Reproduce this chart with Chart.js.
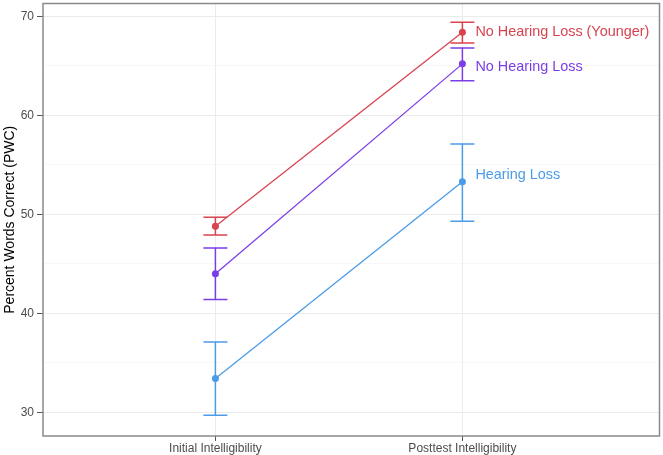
<!DOCTYPE html>
<html>
<head>
<meta charset="utf-8">
<script src="https://cdn.jsdelivr.net/npm/chart.js@4/dist/chart.umd.min.js"></script>
<style>
html,body{margin:0;padding:0;background:#fff;}
#wrap{width:663px;height:455px;position:relative;}
</style>
</head>
<body>
<div id="wrap"><canvas id="c" width="663" height="455"></canvas></div>
<script>
const categories = ['Initial Intelligibility', 'Posttest Intelligibility'];
const groups = ['No Hearing Loss (Younger)', 'No Hearing Loss', 'Hearing Loss'];
const meanYounger = [48.8, 68.4];
const lowYounger  = [47.9, 67.3];
const highYounger = [49.7, 69.4];
const meanNHL = [44.0, 65.2];
const lowNHL  = [41.4, 63.5];
const highNHL = [46.6, 66.8];
const meanHL = [33.4, 53.3];
const lowHL  = [29.7, 49.3];
const highHL = [37.1, 57.1];
const yTickLabels = [30, 40, 50, 60, 70];

const colors = ['#d9434e', '#7b3ee6', '#4b9be9'];
const labelNudge = [0, 3, -7];
const means = [meanYounger, meanNHL, meanHL];
const lows = [lowYounger, lowNHL, lowHL];
const highs = [highYounger, highNHL, highHL];

const datasets = groups.map((g, i) => ({
  label: g,
  data: means[i].map((v, j) => ({x: j + 1, y: v})),
  borderColor: colors[i],
  backgroundColor: colors[i],
  borderWidth: 1.3,
  pointRadius: 3.5,
  pointHoverRadius: 3.5,
  pointBorderWidth: 0,
  tension: 0,
  lows: lows[i],
  highs: highs[i]
}));

const panelPlugin = {
  id: 'panel',
  afterDraw(chart) {
    const {ctx, chartArea: a} = chart;
    ctx.save();
    ctx.strokeStyle = '#8a8a8a';
    ctx.lineWidth = 1.5;
    ctx.strokeRect(a.left, a.top, a.right - a.left, a.bottom - a.top);
    ctx.restore();
  }
};

const errorBarPlugin = {
  id: 'errorbars',
  beforeDatasetsDraw(chart) {
    const {ctx} = chart;
    const xs = chart.scales.x, ys = chart.scales.y;
    ctx.save();
    chart.data.datasets.forEach(ds => {
      ctx.strokeStyle = ds.borderColor;
      ctx.lineWidth = 1.5;
      ds.data.forEach((p, j) => {
        const px = xs.getPixelForValue(p.x);
        const lo = ys.getPixelForValue(ds.lows[j]);
        const hi = ys.getPixelForValue(ds.highs[j]);
        ctx.beginPath();
        ctx.moveTo(px, lo); ctx.lineTo(px, hi);
        ctx.moveTo(px - 12, lo); ctx.lineTo(px + 12, lo);
        ctx.moveTo(px - 12, hi); ctx.lineTo(px + 12, hi);
        ctx.stroke();
      });
    });
    ctx.restore();
  },
  afterDatasetsDraw(chart) {
    const {ctx} = chart;
    const xs = chart.scales.x, ys = chart.scales.y;
    ctx.save();
    ctx.font = '14.4px "Liberation Sans", Arial, sans-serif';
    ctx.textAlign = 'left';
    ctx.textBaseline = 'middle';
    chart.data.datasets.forEach((ds, i) => {
      const last = ds.data[ds.data.length - 1];
      ctx.fillStyle = ds.borderColor;
      ctx.fillText(ds.label, xs.getPixelForValue(last.x) + 13, ys.getPixelForValue(last.y) + labelNudge[i]);
    });
    ctx.restore();
  }
};

new Chart(document.getElementById('c'), {
  type: 'line',
  data: {datasets},
  options: {
    responsive: false,
    animation: false,
    events: [],
    layout: {padding: {top: 2, right: 1, left: 0, bottom: 0}},
    plugins: {legend: {display: false}, tooltip: {enabled: false}},
    scales: {
      x: {
        type: 'linear',
        min: 0.302,
        max: 2.798,
        afterBuildTicks(s) { s.ticks = categories.map((c, j) => ({value: j + 1})); },
        afterFit(s) { s.height = 19; s.paddingLeft = 0; s.paddingRight = 0; },
        ticks: {
          callback: (v) => categories[v - 1] || '',
          color: '#4d4d4d',
          font: {family: '"Liberation Sans", Arial, sans-serif', size: 12},
          padding: 0,
          maxRotation: 0,
          autoSkip: false
        },
        grid: {color: '#ebebeb', lineWidth: 1, tickLength: 5, tickColor: '#555'},
        border: {display: false}
      },
      y: {
        min: 27.6,
        max: 71.3,
        afterFit(s) { s.width = 43; s.paddingTop = 0; s.paddingBottom = 0; },
        ticks: {
          stepSize: 5,
          includeBounds: false,
          callback: (v) => yTickLabels.includes(v) ? String(v) : '',
          color: '#4d4d4d',
          font: {family: '"Liberation Sans", Arial, sans-serif', size: 12},
          padding: 3
        },
        grid: {
          color: (c) => yTickLabels.includes(c.tick && c.tick.value) ? '#ebebeb' : '#f4f4f4',
          lineWidth: (c) => yTickLabels.includes(c.tick && c.tick.value) ? 1 : 0.7,
          tickColor: (c) => yTickLabels.includes(c.tick && c.tick.value) ? '#555' : 'rgba(0,0,0,0)',
          tickLength: 6
        },
        border: {display: false},
        title: {
          display: true,
          text: 'Percent Words Correct (PWC)',
          color: '#000',
          font: {family: '"Liberation Sans", Arial, sans-serif', size: 14},
          padding: {top: 2, bottom: 0}
        }
      }
    }
  },
  plugins: [panelPlugin, errorBarPlugin]
});
</script>
</body>
</html>
